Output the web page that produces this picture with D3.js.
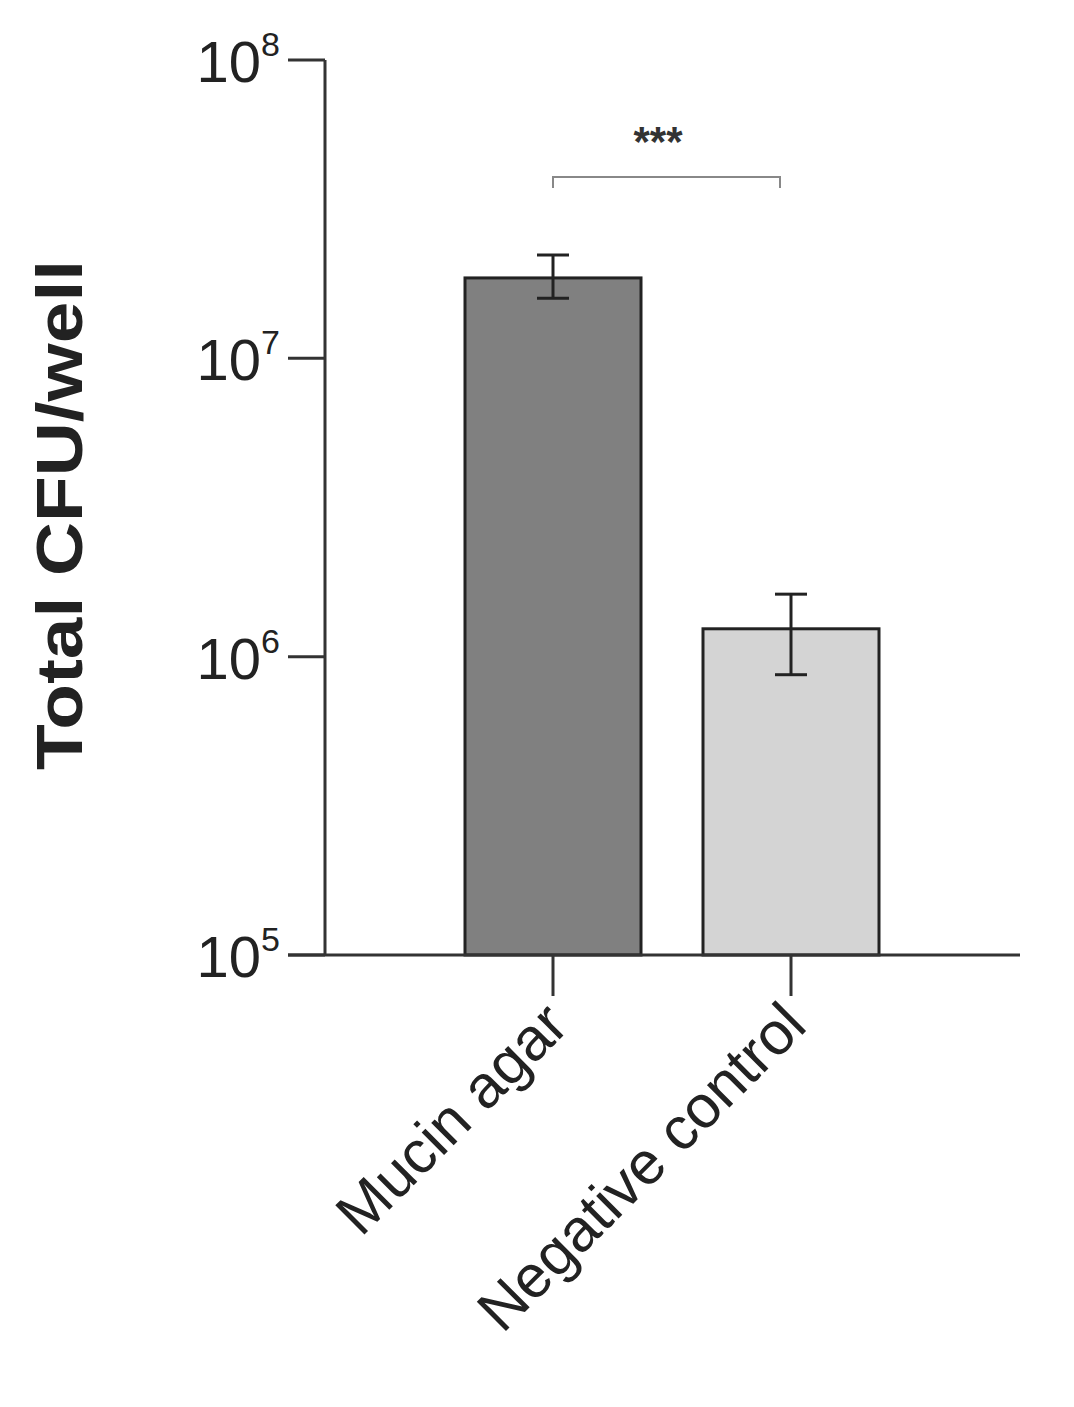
<!DOCTYPE html>
<html>
<head>
<style>
  body { margin: 0; background: #fff; }
  svg { font-family: "Liberation Sans", Arial, sans-serif; }
</style>
</head>
<body>
<div id="chart"></div>
<script src="https://d3js.org/d3.v7.min.js"></script>
<script>
var categories = ["Mucin agar", "Negative control"];
var means = [1.86e7, 1.24e6];
var errLow = [1.59e7, 8.7e5];
var errHigh = [2.22e7, 1.62e6];
var yTicks = [1e5, 1e6, 1e7, 1e8];
var tickExp = ["5", "6", "7", "8"];
var fills = ["#808080", "#d4d4d4"];

var svg = d3.select("#chart").append("svg").attr("width", 1074).attr("height", 1407);

var y = d3.scaleLog().domain([1e5, 1e8]).range([955, 60]);
var x = d3.scalePoint().domain(categories).range([553, 791]);
var bw = 176;

// bars
svg.selectAll(".bar").data(categories).enter().append("rect")
  .attr("x", function(d) { return x(d) - bw / 2; })
  .attr("y", function(d, i) { return y(means[i]); })
  .attr("width", bw)
  .attr("height", function(d, i) { return 955 - y(means[i]); })
  .attr("fill", function(d, i) { return fills[i]; })
  .attr("stroke", "#222").attr("stroke-width", 3);

// error bars
categories.forEach(function(d, i) {
  var cx = x(d), g = svg.append("g").attr("stroke", "#222").attr("stroke-width", 3);
  g.append("line").attr("x1", cx).attr("x2", cx).attr("y1", y(errHigh[i])).attr("y2", y(errLow[i]));
  [errHigh[i], errLow[i]].forEach(function(v) {
    g.append("line").attr("x1", cx - 16).attr("x2", cx + 16).attr("y1", y(v)).attr("y2", y(v));
  });
});

// y axis
svg.append("line").attr("x1", 325).attr("x2", 325).attr("y1", 60).attr("y2", 955)
  .attr("stroke", "#333").attr("stroke-width", 3);
yTicks.forEach(function(t, i) {
  svg.append("line").attr("x1", 288).attr("x2", 325).attr("y1", y(t)).attr("y2", y(t))
    .attr("stroke", "#333").attr("stroke-width", 3);
  var tx = svg.append("text").attr("x", 280).attr("y", y(t) + 22).attr("text-anchor", "end")
    .attr("font-size", 58).attr("fill", "#222");
  tx.append("tspan").text("10");
  tx.append("tspan").attr("font-size", 34).attr("dy", -26).text(tickExp[i]);
});

// x axis
svg.append("line").attr("x1", 288).attr("x2", 1020).attr("y1", 955).attr("y2", 955)
  .attr("stroke", "#333").attr("stroke-width", 3);
categories.forEach(function(d) {
  svg.append("line").attr("x1", x(d)).attr("x2", x(d)).attr("y1", 955).attr("y2", 996)
    .attr("stroke", "#333").attr("stroke-width", 3);
  svg.append("text").attr("transform", "translate(" + (x(d) + 18) + ",1028) rotate(-45)")
    .attr("text-anchor", "end").attr("font-size", 60).attr("fill", "#222").text(d);
});

// y label
svg.append("text").attr("transform", "translate(82,515) rotate(-90)")
  .attr("text-anchor", "middle").attr("font-size", 64).attr("font-weight", "bold")
  .attr("textLength", 510).attr("lengthAdjust", "spacingAndGlyphs")
  .attr("fill", "#222").text("Total CFU/well");

// significance bracket
svg.append("path").attr("d", "M553,188V177H780V188").attr("fill", "none")
  .attr("stroke", "#888").attr("stroke-width", 2);
svg.append("text").attr("x", 658).attr("y", 156).attr("text-anchor", "middle")
  .attr("font-size", 42).attr("font-weight", "bold").attr("fill", "#333").text("***");
</script>
</body>
</html>
